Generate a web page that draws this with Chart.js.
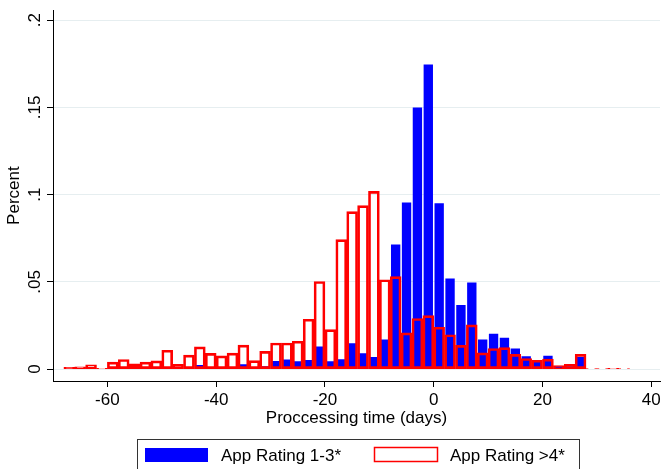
<!DOCTYPE html>
<html>
<head>
<meta charset="utf-8">
<script src="https://cdn.jsdelivr.net/npm/chart.js@4.4.1/dist/chart.umd.min.js"></script>
<style>
    html, body { margin: 0; padding: 0; background: #fff; }
    #contenedor { width: 664px; height: 469px; }
</style>
</head>
<body>
<div id="contenedor"><canvas id="histograma" width="664" height="469"></canvas></div>
<script>
// Bin centres (days), each bin is 2 days wide
const centros = [
    -67, -65, -63, -61, -59, -57, -55, -53, -51, -49, -47, -45, -43, -41, -39, -37, -35, -33,
    -31, -29, -27, -25, -23, -21, -19, -17, -15, -13, -11, -9, -7, -5, -3, -1,
    1, 3, 5, 7, 9, 11, 13, 15, 17, 19, 21, 23, 25, 27, 29, 31, 33, 35
];

// App Rating 1-3* (blue, filled)
const rating13 = [
    0, 0, 0.001, 0, 0, 0.001, 0, 0, 0, 0.001, 0, 0.0005, 0.0024, 0.001, 0.0005, 0.001, 0.0028, 0.001,
    0.0017, 0.0047, 0.0055, 0.0045, 0.0053, 0.013, 0.0045, 0.0057, 0.0148, 0.0091, 0.007, 0.017, 0.0714, 0.0955, 0.150, 0.1746,
    0.095, 0.0519, 0.0367, 0.0496, 0.017, 0.0203, 0.018, 0.0118, 0.0074, 0.0051, 0.0076, 0.0017, 0.0017, 0.007, 0, 0, 0, 0
];

// App Rating >4* (red outline)
const rating4 = [
    0.001, 0.0013, 0.0025, 0.0005, 0.004, 0.0055, 0.003, 0.004, 0.0047, 0.0108, 0.0028, 0.008, 0.0128, 0.009, 0.0076, 0.0092, 0.0138, 0.0049,
    0.0102, 0.015, 0.015, 0.016, 0.0286, 0.0502, 0.0226, 0.0742, 0.0903, 0.0937, 0.1019, 0.0512, 0.053, 0.0208, 0.029, 0.0307,
    0.024, 0.0197, 0.0136, 0.0254, 0.0093, 0.0118, 0.0123, 0.0085, 0.0061, 0.0051, 0.0057, 0.0021, 0.0028, 0.0085, 0.0003, 0.0003, 0.0005, 0.0003
];

const ticksX = [-60, -40, -20, 0, 20, 40];
const ticksY = [0, 0.05, 0.1, 0.15, 0.2];
const etiquetas = ['App Rating 1-3*', 'App Rating >4*'];

const fuente = '"Liberation Sans", Arial, sans-serif';

// Legend box drawn like Stata's (border around both keys)
const leyendaStata = {
    id: 'leyendaStata',
    afterDraw(chart) {
        const ctx = chart.ctx;
        ctx.save();
        ctx.strokeStyle = '#333';
        ctx.lineWidth = 1;
        ctx.strokeRect(137.5, 439.5, 442, 40);

        ctx.fillStyle = '#0000ff';
        ctx.fillRect(145, 448, 63, 14);

        ctx.strokeStyle = '#ff0000';
        ctx.lineWidth = 1.5;
        ctx.strokeRect(374.5, 447.5, 63, 14);

        ctx.fillStyle = '#000';
        ctx.font = '17px ' + fuente;
        ctx.textBaseline = 'alphabetic';
        ctx.fillText(etiquetas[0], 221, 461);
        ctx.fillText(etiquetas[1], 450, 461);
        ctx.restore();
    }
};

const grafico = new Chart(document.getElementById('histograma'), {
    type: 'bar',
    data: {
        datasets: [
            {
                label: etiquetas[0],
                data: centros.map((c, i) => ({ x: c, y: rating13[i] })),
                backgroundColor: '#0000ff',
                borderWidth: 0,
                barPercentage: 0.86,
                categoryPercentage: 1,
                order: 2
            },
            {
                label: etiquetas[1],
                data: centros.map((c, i) => ({ x: c, y: rating4[i] })),
                backgroundColor: 'rgba(0,0,0,0)',
                borderColor: '#ff0000',
                borderWidth: 2,
                borderSkipped: false,
                barPercentage: 1,
                categoryPercentage: 1,
                order: 1
            }
        ]
    },
    options: {
        responsive: false,
        animation: false,
        devicePixelRatio: 1,
        datasets: { bar: { grouped: false } },
        layout: { padding: { top: 6, right: 4, bottom: 36, left: 0 } },
        plugins: {
            legend: { display: false },
            tooltip: { enabled: false }
        },
        scales: {
            x: {
                type: 'linear',
                min: -70,
                max: 41.6,
                offset: false,
                afterBuildTicks: (scale) => { scale.ticks = ticksX.map(v => ({ value: v })); },
                afterFit: (scale) => { scale.height = 52; },
                grid: { display: true, drawOnChartArea: false, offset: false, tickLength: 6, tickColor: '#000' },
                border: { display: true, color: '#000', width: 1 },
                ticks: { color: '#000', font: { family: fuente, size: 17 }, padding: 3, maxRotation: 0 },
                title: {
                    display: true,
                    text: 'Proccessing time (days)',
                    color: '#000',
                    font: { family: fuente, size: 17 },
                    padding: { top: 0, bottom: 4 }
                }
            },
            y: {
                min: -0.0068,
                max: 0.2057,
                afterBuildTicks: (scale) => { scale.ticks = ticksY.map(v => ({ value: v })); },
                afterFit: (scale) => { scale.width = 53; },
                grid: { color: '#e6eef0', lineWidth: 1, tickLength: 6, tickColor: '#000' },
                border: { display: true, color: '#000', width: 1 },
                ticks: {
                    color: '#000',
                    font: { family: fuente, size: 17 },
                    padding: 0,
                    minRotation: 90,
                    maxRotation: 90,
                    crossAlign: 'center',
                    callback: (v) => (v === 0 ? '0' : String(v).replace(/^0/, ''))
                },
                title: {
                    display: true,
                    text: 'Percent',
                    color: '#000',
                    font: { family: fuente, size: 17 },
                    padding: { top: 4, bottom: 0 }
                }
            }
        }
    },
    plugins: [leyendaStata]
});
</script>
</body>
</html>
